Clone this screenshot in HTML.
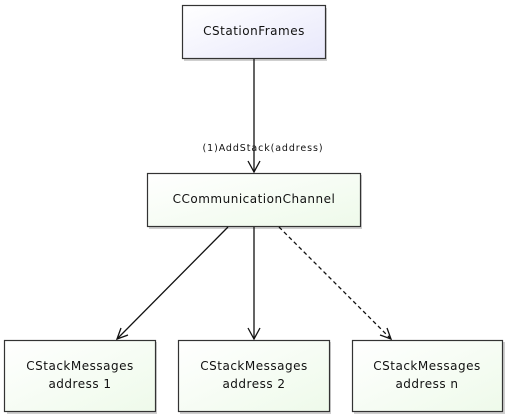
<!DOCTYPE html>
<html><head><meta charset="utf-8"><style>
html,body{margin:0;padding:0;background:#fff;width:508px;height:418px;overflow:hidden}
svg{display:block}
text{font-family:"DejaVu Sans","Liberation Sans",sans-serif;fill:#111;letter-spacing:0.5px}
</style></head><body>
<svg width="508" height="418" viewBox="0 0 508 418" xmlns="http://www.w3.org/2000/svg">
<defs>
<linearGradient id="gb" x1="0" y1="0" x2="1" y2="1"><stop offset="0" stop-color="#ffffff"/><stop offset="1" stop-color="#e8e8fb"/></linearGradient>
<linearGradient id="gg" x1="0" y1="0" x2="1" y2="1"><stop offset="0" stop-color="#ffffff"/><stop offset="1" stop-color="#eefaea"/></linearGradient>
</defs>
<g fill="#cfcfcf">
<rect x="184" y="8" width="143" height="53"/>
<rect x="149" y="175" width="213" height="54"/>
<rect x="7" y="342" width="150" height="72"/>
<rect x="180" y="342" width="151" height="72"/>
<rect x="354" y="342" width="151" height="72"/>
</g>
<g stroke="#333" stroke-width="1.2">
<rect x="182.5" y="5.5" width="143" height="53" fill="url(#gb)"/>
<rect x="147.5" y="173.5" width="213" height="53" fill="url(#gg)"/>
<rect x="4.5" y="340.5" width="151" height="71" fill="url(#gg)"/>
<rect x="178.5" y="340.5" width="151" height="71" fill="url(#gg)"/>
<rect x="352.5" y="340.5" width="150" height="71" fill="url(#gg)"/>
</g>
<g stroke="#111" stroke-width="1.3" fill="none">
<line x1="254" y1="59" x2="254" y2="172"/>
<polyline points="248,161 254,172 260,161"/>
<line x1="228" y1="227" x2="117" y2="339"/>
<polyline points="121,328 117,339 128,335"/>
<line x1="254" y1="227" x2="254" y2="339"/>
<polyline points="248,328 254,339 260,328"/>
<line x1="279" y1="227" x2="391" y2="339" stroke-dasharray="4,3"/>
<polyline points="380,335 391,339 387,328"/>
</g>
<text x="263" y="151" font-size="9.5" text-anchor="middle" style="letter-spacing:0.9px">(1)AddStack(address)</text>
<text x="254" y="35" font-size="12" text-anchor="middle">CStationFrames</text>
<text x="254" y="203" font-size="12" text-anchor="middle">CCommunicationChannel</text>
<text x="80" y="370" font-size="12" text-anchor="middle">CStackMessages</text>
<text x="80" y="388" font-size="12" text-anchor="middle">address 1</text>
<text x="254" y="370" font-size="12" text-anchor="middle">CStackMessages</text>
<text x="254" y="388" font-size="12" text-anchor="middle">address 2</text>
<text x="427" y="370" font-size="12" text-anchor="middle">CStackMessages</text>
<text x="427" y="388" font-size="12" text-anchor="middle">address n</text>
</svg>
</body></html>
